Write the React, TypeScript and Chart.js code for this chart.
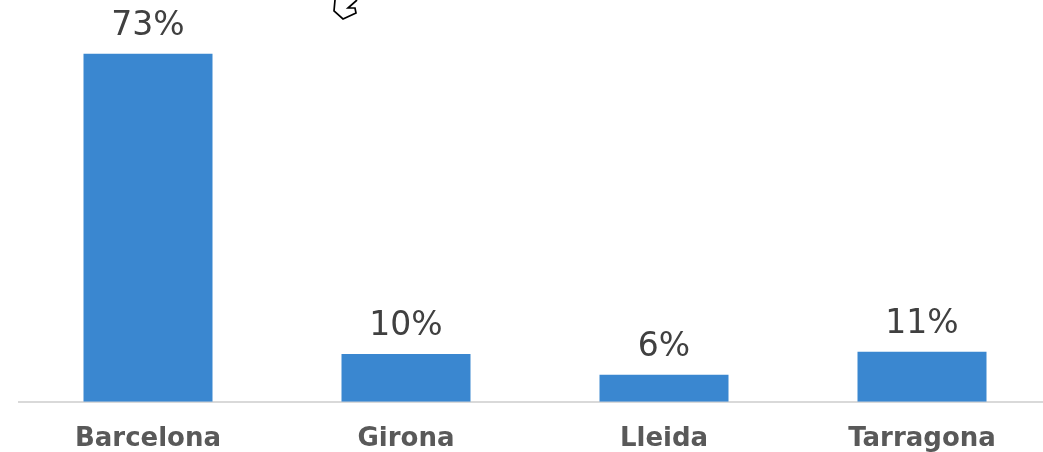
import React, { useEffect, useRef } from "react";
import { Chart, registerables } from "chart.js";

Chart.register(...registerables);

const categories = ["Barcelona", "Girona", "Lleida", "Tarragona"];
const shares = [73, 10.05, 5.7, 10.5];
const shareLabels = ["73%", "10%", "6%", "11%"];
const yMax = 84.3;
const outlineFragment = [
  [335, 0],
  [334, 11],
  [343, 19],
  [356, 13],
  [355, 8],
  [348, 8],
  [357, 0],
];

const labelPlugin = {
  id: "barLabels",
  afterDatasetsDraw(chart: any) {
    const { ctx } = chart;
    const meta = chart.getDatasetMeta(0);
    ctx.save();
    ctx.font = '33px "DejaVu Sans"';
    ctx.fillStyle = "#404040";
    ctx.textAlign = "center";
    ctx.textBaseline = "alphabetic";
    meta.data.forEach((bar: any, i: number) => {
      ctx.fillText(shareLabels[i], bar.x, bar.y - 19);
    });
    ctx.strokeStyle = "#000000";
    ctx.lineWidth = 1.7;
    ctx.beginPath();
    outlineFragment.forEach(([x, y], i) => (i ? ctx.lineTo(x, y) : ctx.moveTo(x, y)));
    ctx.stroke();
    ctx.restore();
  },
};

export default function App() {
  const ref = useRef<HTMLCanvasElement>(null);
  useEffect(() => {
    const chart = new Chart(ref.current!, {
      type: "bar",
      data: {
        labels: categories,
        datasets: [
          {
            data: shares,
            backgroundColor: "#3A87D0",
            categoryPercentage: 1,
            barPercentage: 0.5,
          },
        ],
      },
      plugins: [labelPlugin],
      options: {
        animation: false,
        responsive: false,
        devicePixelRatio: 1,
        layout: { padding: { left: 19, right: 0, top: 0, bottom: 0 } },
        plugins: { legend: { display: false }, tooltip: { enabled: false } },
        scales: {
          x: {
            grid: { display: false, drawTicks: false },
            border: { color: "#D9D9D9", width: 2 },
            ticks: {
              color: "#595959",
              padding: 22,
              font: { family: '"DejaVu Sans"', size: 26, weight: "bold" },
              maxRotation: 0,
            },
          },
          y: { display: false, min: 0, max: yMax },
        },
      },
    });
    return () => chart.destroy();
  }, []);
  return (
    <canvas
      ref={ref}
      width={1051}
      height={477}
      style={{ position: "fixed", left: 0, top: 0, display: "block" }}
    />
  );
}
